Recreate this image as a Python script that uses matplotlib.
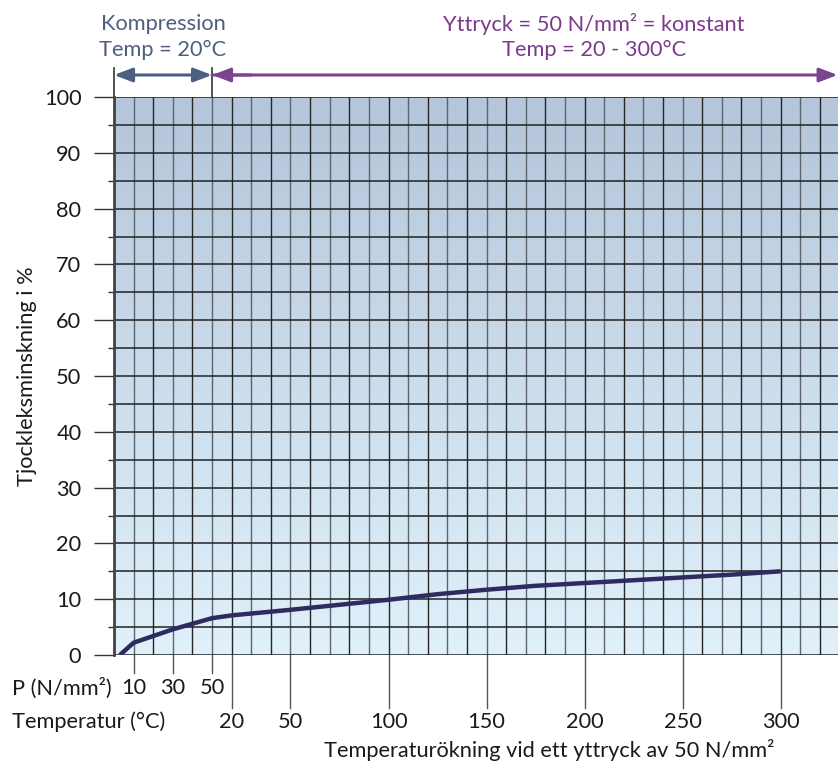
import numpy as np
import matplotlib
matplotlib.use("Agg")
import matplotlib.pyplot as plt
from matplotlib.colors import LinearSegmentedColormap

plt.rcParams['font.family'] = ['Lato', 'DejaVu Sans']

# Kompressionsdel: tryck P (N/mm²) vid 20 °C
p_values = [3, 10, 20, 30, 40, 50]
p_thickness = [0.0, 2.2, 3.4, 4.6, 5.6, 6.6]

# Temperaturdel: yttryck 50 N/mm², temperatur 20 - 300 °C
t_values = [20, 50, 75, 100, 125, 150, 175, 200, 225, 250, 275, 300]
t_thickness = [7.1, 8.1, 9.0, 9.9, 10.9, 11.7, 12.4, 12.9, 13.4, 13.9, 14.4, 15.0]

p_ticks = [10, 30, 50]
t_ticks = [20, 50, 100, 150, 200, 250, 300]
y_ticks = list(range(0, 101, 10))

W, H = 838, 763
fig = plt.figure(figsize=(W / 100, H / 100), dpi=100)

x0, x1, y0, y1 = 114, 838, 97, 655
ax = fig.add_axes([x0 / W, 1 - y1 / H, (x1 - x0) / W, (y1 - y0) / H])

cell = (781 - 232) / 28.0
xmax = (x1 - x0) / cell
px_per_unit = (y1 - y0) / 100.0
FS = 15.7


def p_to_x(p):
    return np.asarray(p, dtype=float) / 10.0


def t_to_x(t):
    return 5.0 + (np.asarray(t, dtype=float) - 10.0) / 10.0


def dy(px):
    # pixelavstånd -> dataenheter i y
    return px / px_per_unit


ax.set_xlim(0, xmax)
ax.set_ylim(0, 100)

# bakgrund med gradient
cmap = LinearSegmentedColormap.from_list("bg", ["#e0f1fb", "#cbdcec", "#b5c5da"])
grad = np.linspace(0, 1, 256).reshape(-1, 1)
ax.imshow(grad, cmap=cmap, aspect="auto", extent=[0, xmax, 0, 100],
          origin="lower", zorder=0)

# rutnät
for i in range(0, int(xmax) + 1):
    col = "#262626" if i % 2 == 0 else "#5f646c"
    ax.axvline(i, color=col, lw=1.0, zorder=1)
for v in range(0, 101, 5):
    ax.axhline(v, color="#222222", lw=1.1, zorder=1)

# kurva
xs = np.concatenate([p_to_x(p_values), t_to_x(t_values)])
ys = np.array(p_thickness + t_thickness)
ax.plot(xs, ys, color="#2f2b60", lw=3.2, solid_capstyle="butt",
        solid_joinstyle="round", zorder=3)

# axlar
for s in ["top", "right", "bottom"]:
    ax.spines[s].set_visible(False)
ax.spines["left"].set_color("#444444")
ax.spines["left"].set_linewidth(2.0)
ax.set_xticks([])
ax.set_yticks(y_ticks)
ax.set_yticks(range(5, 100, 10), minor=True)
ax.tick_params(axis="y", which="major", length=14.5, width=1.0, color="#333333",
               labelsize=FS, pad=9, labelcolor="#1a1a1a")
ax.tick_params(axis="y", which="minor", length=4.5, width=1.0, color="#333333")
ax.set_ylabel("Tjockleksminskning i %", fontsize=FS, color="#1a1a1a", labelpad=5)

# x-axelns skalor under diagrammet
for p in p_ticks:
    x = p_to_x(p)
    ax.plot([x, x], [0, -dy(18)], color="#555555", lw=1.0, clip_on=False)
    ax.text(x, -dy(33), str(p), ha="center", va="center", fontsize=FS,
            color="#1a1a1a", clip_on=False)
for t in t_ticks:
    x = t_to_x(t)
    ax.plot([x, x], [0, -dy(53)], color="#555555", lw=1.0, clip_on=False)
    ax.text(x, -dy(67), str(t), ha="center", va="center", fontsize=FS,
            color="#1a1a1a", clip_on=False)

ax.text(-(x0 - 12) / cell, -dy(33), "P (N/mm²)", ha="left", va="center",
        fontsize=FS, color="#1a1a1a", clip_on=False)
ax.text(-(x0 - 12) / cell, -dy(67), "Temperatur (°C)", ha="left", va="center",
        fontsize=FS, color="#1a1a1a", clip_on=False)
ax.text((549 - x0) / cell, -dy(95), "Temperaturökning vid ett yttryck av 50 N/mm²",
        ha="center", va="center", fontsize=FS, color="#1a1a1a", clip_on=False)

# sektionsmarkeringar ovanför diagrammet
for x in [0, p_to_x(50)]:
    ax.plot([x, x], [100, 100 + dy(29)], color="#333333", lw=1.2, clip_on=False)

ya = 100 + dy(22)
blue = "#4a5f82"
purple = "#7a4490"
head = "head_length=1.1,head_width=0.42"
ax.annotate("", xy=(0, ya), xytext=(p_to_x(50), ya), annotation_clip=False,
            arrowprops=dict(arrowstyle="<|-|>," + head,
                            color=blue, lw=2.2, shrinkA=0, shrinkB=0))
ax.annotate("", xy=(xmax - 0.02, ya), xytext=(p_to_x(50), ya), annotation_clip=False,
            arrowprops=dict(arrowstyle="-|>," + head,
                            color=purple, lw=2.2, shrinkA=0, shrinkB=0))
ax.annotate("", xy=(p_to_x(50), ya), xytext=(p_to_x(50) + 2, ya), annotation_clip=False,
            arrowprops=dict(arrowstyle="-|>," + head,
                            color=purple, lw=2.2, shrinkA=0, shrinkB=0))

fig.text(163 / W, 1 - 24 / H, "Kompression", ha="center", va="center",
         fontsize=FS, color="#4d5f80")
fig.text(163 / W, 1 - 50 / H, "Temp = 20°C", ha="center", va="center",
         fontsize=FS, color="#4d5f80")
fig.text(594 / W, 1 - 24 / H, "Yttryck = 50 N/mm² = konstant", ha="center",
         va="center", fontsize=FS, color="#7b3b8c")
fig.text(594 / W, 1 - 50 / H, "Temp = 20 - 300°C", ha="center", va="center",
         fontsize=FS, color="#7b3b8c")

fig.savefig("out.png", dpi=100)
